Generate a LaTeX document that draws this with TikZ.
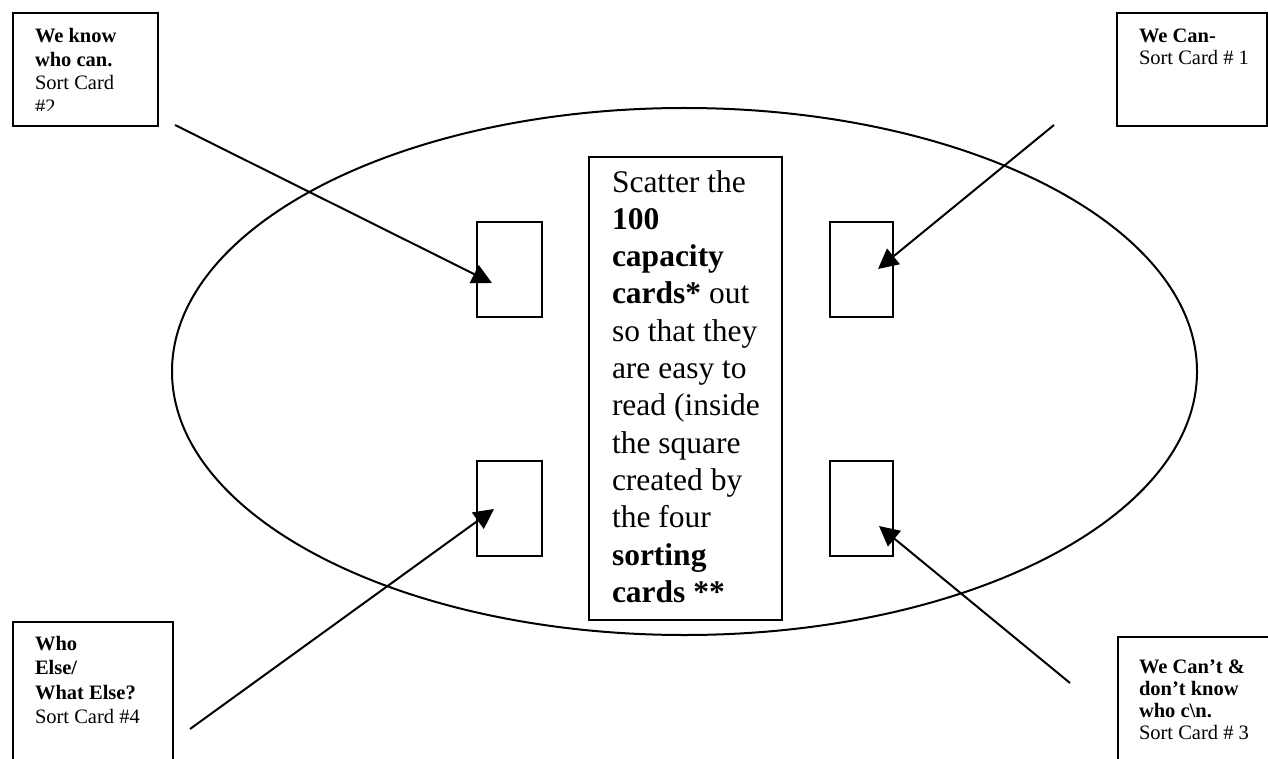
\documentclass[tikz,border=0pt]{standalone}
\usepackage{fontspec}
\setmainfont{Liberation Serif}
\usetikzlibrary{arrows.meta,shapes.geometric}
\begin{document}
\begin{tikzpicture}[x=1pt,y=-1pt,
  card/.style={draw,line width=2.5pt,anchor=north west,inner sep=0pt,outer sep=0pt},
  slot/.style={draw,line width=2.2pt,anchor=north west,inner sep=0pt,outer sep=0pt,minimum width=65pt,minimum height=95pt},
  lbl/.style={anchor=north west,inner sep=0pt,outer sep=0pt,align=left},
  arr/.style={line width=2pt,-{Triangle[length=20pt,width=20pt]}}]
\useasboundingbox (0,0) rectangle (1268,759);
\clip (0,0) rectangle (1268,759);
\fill[white] (0,0) rectangle (1268,759);
% table ellipse
\node[draw,ellipse,line width=2pt,inner sep=0pt,minimum width=1025pt,minimum height=527pt] (table) at (684.5,371.5) {};
% central instruction box
\node[card,line width=2pt,fill=white,minimum width=193pt,minimum height=463pt] (centre) at (589,157) {};
\node[lbl,font=\fontsize{31.5}{37.3}\selectfont] (centretext) at (612,165.9)
  {\strut Scatter the\\ \textbf{100}\\ \textbf{capacity}\\ \textbf{cards*} out\\ so that they\\ are easy to\\ read (inside\\ the square\\ created by\\ the four\\ \textbf{sorting}\\ \textbf{cards **}};
% sorting card slots
\node[slot] (sTL) at (477,222) {};
\node[slot,minimum width=63pt] (sTR) at (830,222) {};
\node[slot] (sBL) at (477,461) {};
\node[slot,minimum width=63pt] (sBR) at (830,461) {};
% sorting cards
\node[card,minimum width=145pt,minimum height=113pt] (cTL) at (13,13) {};
\node[card,minimum width=150pt,minimum height=113pt] (cTR) at (1117,13) {};
\node[card,minimum width=160pt,minimum height=160pt] (cBL) at (13,622) {};
\node[card,minimum width=170pt,minimum height=160pt] (cBR) at (1118,637) {};
\begin{scope}
\clip (13,13) rectangle (158,110.5);
\node[lbl,font=\fontsize{20.5}{23.7}\selectfont] (tTL) at (35,25.9)
  {\strut\textbf{We know}\\ \textbf{who can.}\\ Sort Card\\ \#2};
\end{scope}
\node[lbl,font=\fontsize{20.5}{22}\selectfont] (tTR) at (1139,27.6)
  {\strut\textbf{We Can-}\\ Sort Card \# 1};
\node[lbl,font=\fontsize{20.5}{24.6}\selectfont] (tBL) at (35,632.8)
  {\strut\textbf{Who}\\ \textbf{Else/}\\ \textbf{What Else?}\\ Sort Card \#4};
\node[lbl,font=\fontsize{20.5}{21.7}\selectfont] (tBR) at (1139,658.8)
  {\strut\textbf{We Can’t \&}\\ \textbf{don’t know}\\ \textbf{who c\textbackslash n.}\\ Sort Card \# 3};
% connector ends
\coordinate (fTL) at (175,125);
\coordinate (fTR) at (1054,125);
\coordinate (fBL) at (190,729);
\coordinate (fBR) at (1070,683);
\coordinate (hTL) at (492,283);
\coordinate (hTR) at (878,269);
\coordinate (hBL) at (494,509);
\coordinate (hBR) at (879,526);
\draw[arr] (fTL) -- (hTL);
\draw[arr] (fTR) -- (hTR);
\draw[arr] (fBL) -- (hBL);
\draw[arr] (fBR) -- (hBR);
\end{tikzpicture}
\end{document}
